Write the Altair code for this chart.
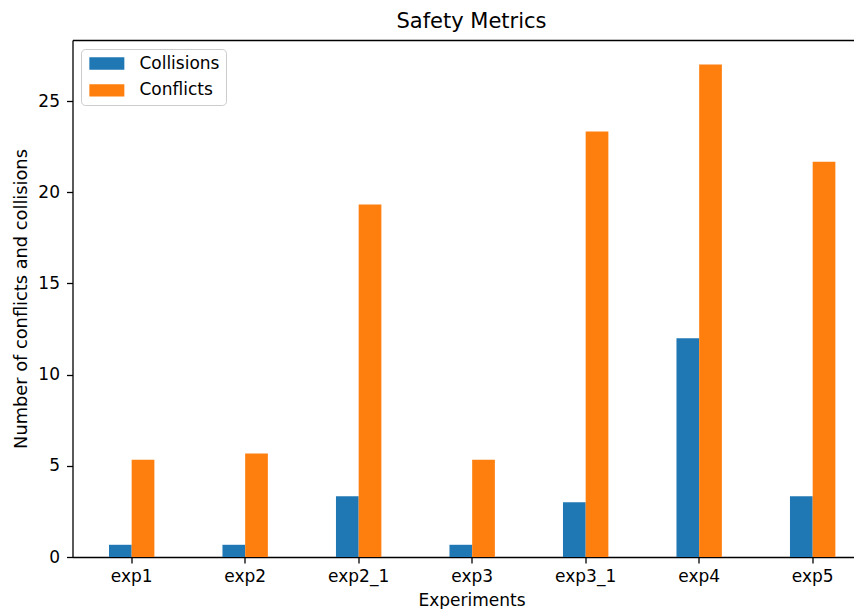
import altair as alt
import pandas as pd

experiments = ["exp1", "exp2", "exp2_1", "exp3", "exp3_1", "exp4", "exp5"]
collisions = [0.67, 0.67, 3.33, 0.67, 3.0, 12.0, 3.33]
conflicts = [5.33, 5.67, 19.33, 5.33, 23.33, 27.0, 21.67]
series = ["Collisions", "Conflicts"]
colors = ["#1f77b4", "#ff7f0e"]
y_ticks = [0, 5, 10, 15, 20, 25]

rows = []
for e, c1, c2 in zip(experiments, collisions, conflicts):
    rows.append({"Experiment": e, "Metric": series[0], "Value": c1})
    rows.append({"Experiment": e, "Metric": series[1], "Value": c2})
df = pd.DataFrame(rows)

FONT = "DejaVu Sans"
FS = 17

x_scale = alt.Scale(domain=experiments, paddingInner=0.6, paddingOuter=0.2405, align=0.668)
y_scale = alt.Scale(domain=[0, 28.35], nice=False, zero=True)
off_scale = alt.Scale(domain=series, paddingInner=0, paddingOuter=0)

base = alt.Chart(df)

bars = base.mark_bar().encode(
    x=alt.X(
        "Experiment:N",
        scale=x_scale,
        sort=experiments,
        axis=alt.Axis(
            title="Experiments",
            labelAngle=0,
            labelFont=FONT,
            labelFontSize=FS,
            labelColor="black",
            labelPadding=5,
            tickSize=6,
            tickWidth=1.3,
            tickColor="black",
            domainColor="black",
            domainWidth=1.3,
            titleFont=FONT,
            titleFontSize=FS,
            titleFontWeight="normal",
            titleColor="black",
            titleBaseline="alphabetic",
            titleY=48,
            titleX=399,
            titleAlign="center",
            grid=False,
        ),
    ),
    xOffset=alt.XOffset("Metric:N", scale=off_scale, sort=series),
    y=alt.Y(
        "Value:Q",
        scale=y_scale,
        axis=alt.Axis(
            values=y_ticks,
            title="Number of conflicts and collisions",
            grid=False,
            labelFont=FONT,
            labelFontSize=FS,
            labelColor="black",
            labelPadding=7,
            tickSize=6,
            tickWidth=1.3,
            tickColor="black",
            domainColor="black",
            domainWidth=1.3,
            titleFont=FONT,
            titleFontSize=17.8,
            titleFontWeight="normal",
            titleColor="black",
            titleX=-46,
            titleY=258.5,
            titleAngle=270,
            titleAlign="center",
            titleBaseline="alphabetic",
        ),
    ),
    color=alt.Color(
        "Metric:N",
        scale=alt.Scale(domain=series, range=colors),
        sort=series,
        legend=alt.Legend(
            title=None,
            orient="none",
            legendX=8.5,
            legendY=9,
            direction="vertical",
            symbolType="M-1,-1H4.69V1H-1Z",
            symbolSize=151.3,
            symbolStrokeWidth=0,
            symbolOpacity=1,
            labelFont=FONT,
            labelFontSize=FS,
            labelColor="black",
            labelOffset=35.4,
            padding=6,
            rowPadding=8.9,
            fillColor="white",
            strokeColor="#cccccc",
            cornerRadius=4,
        ),
    ),
)

top_spine = base.mark_bar(opacity=0).encode(
    x=alt.X(
        "Experiment:N",
        scale=x_scale,
        sort=experiments,
        axis=alt.Axis(
            orient="top",
            labels=False,
            ticks=False,
            title=None,
            grid=False,
            domainColor="black",
            domainWidth=1.3,
        ),
    ),
    xOffset=alt.XOffset("Metric:N", scale=off_scale, sort=series),
    y=alt.Y("Value:Q", scale=y_scale),
)

chart = (
    alt.layer(bars, top_spine)
    .resolve_axis(x="independent")
    .properties(
        width=781,
        height=517,
        autosize=alt.AutoSizeParams(type="none"),
        padding={"left": 64.5, "top": 32, "right": 0, "bottom": 52},
        title=alt.Title(
            "Safety Metrics",
            font=FONT,
            fontSize=21,
            fontWeight="normal",
            color="black",
            anchor="middle",
            frame="group",
            baseline="alphabetic",
            offset=10.7,
            dx=8.5,
            dy=19.3,
        ),
    )
    .configure_view(stroke=None)
)

chart.save("out.html", embed_options={"renderer": "svg", "actions": False})
